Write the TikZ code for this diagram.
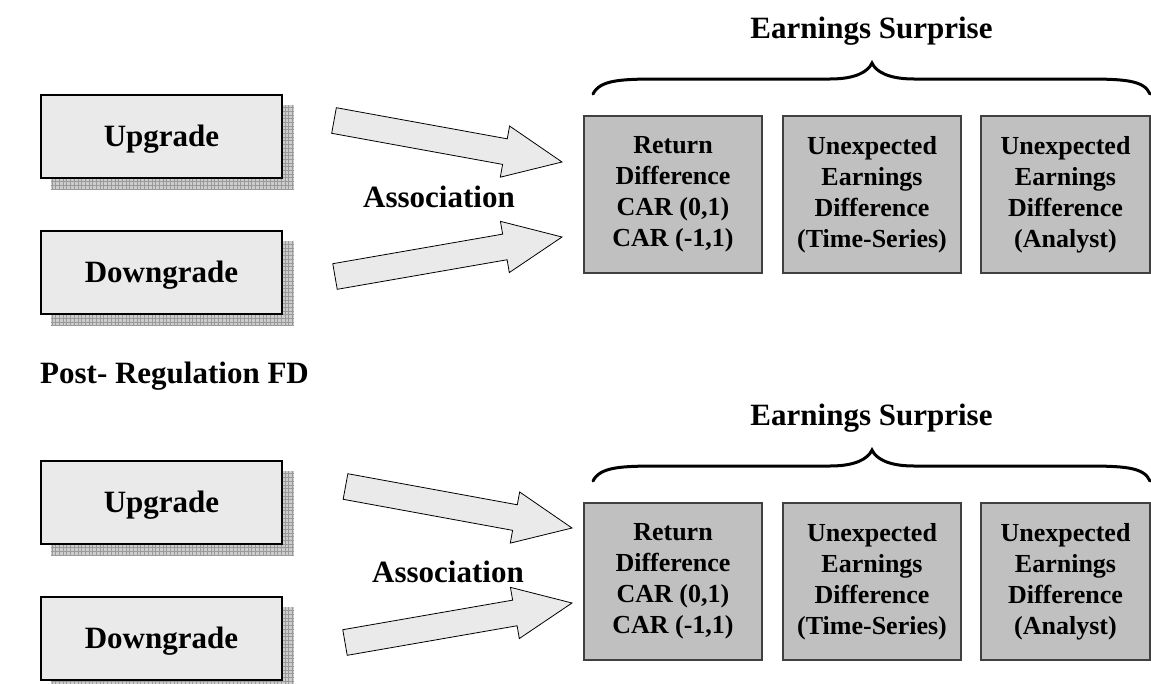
\documentclass[tikz,border=0pt]{standalone}
\usepackage{fontspec}
\setmainfont{Liberation Serif}
\usetikzlibrary{calc,backgrounds}
\definecolor{lightfill}{HTML}{EAEAEA}
\definecolor{darkfill}{HTML}{C0C0C0}
\definecolor{darkedge}{HTML}{404040}
\definecolor{shadowbg}{HTML}{CDCDCD}
\definecolor{shadowline}{HTML}{9A9A9A}
\pgfdeclarelayer{paper}
\pgfsetlayers{paper,background,main}
\newcommand\shadowof[1]{%
  \begin{scope}[on background layer]
    \fill[shadowbg] ($(#1.south west)+(11,11)$) rectangle ($(#1.north east)+(11,11)$);
    \draw[shadowline, line width=0.4pt, step=3.7pt] ($(#1.south west)+(11,11)$) grid ($(#1.north east)+(11,11)$);
  \end{scope}}
\newcommand\blockarrow[3]{%
  \coordinate (#1-b) at ($(#3)!58pt!(#2)$);
  \draw[blockarrowstyle] ($(#2)!13pt!90:(#3)$) -- ($(#1-b)!13pt!90:(#3)$) -- ($(#1-b)!26pt!90:(#3)$) -- (#3)
     -- ($(#1-b)!26pt!-90:(#3)$) -- ($(#1-b)!13pt!-90:(#3)$) -- ($(#2)!13pt!-90:(#3)$) -- cycle;}
\tikzset{
  lightbox/.style={draw=black, line width=1.3pt, fill=lightfill, inner sep=0pt,
    minimum width=241pt, minimum height=83pt, text height=20.5pt, text depth=0pt,
    font=\fontsize{31}{36}\selectfont\bfseries},
  graybox/.style={draw=darkedge, line width=1.3pt, fill=darkfill, inner sep=0pt,
    minimum width=178pt, minimum height=157pt, align=center,
    font=\fontsize{26}{31}\selectfont\bfseries},
  labeltext/.style={inner sep=0pt, font=\fontsize{31}{36}\selectfont\bfseries},
  blockarrowstyle/.style={draw=black, line width=0.8pt, fill=lightfill, line join=miter},
  bracestyle/.style={draw=black, line width=3pt, line cap=round}
}
\begin{document}
\begin{tikzpicture}[x=1pt,y=-1pt]
\useasboundingbox (0,0) rectangle (1151,683);
\begin{pgfonlayer}{paper}
\fill[white] (0,0) rectangle (1151,683);
\end{pgfonlayer}

% ---- top section ----
\node[lightbox] (up1) at (161.5,136.5) {Upgrade};
\node[lightbox] (down1) at (161.5,272.5) {Downgrade};
\shadowof{up1}
\shadowof{down1}

\node[graybox] (ret1) at (673,194.5) {Return\\Difference\\CAR (0,1)\\CAR (-1,1)};
\node[graybox] (ts1) at (872,194.5) {Unexpected\\Earnings\\Difference\\(Time-Series)};
\node[graybox, minimum width=169pt] (an1) at (1065.5,194.5) {Unexpected\\Earnings\\Difference\\(Analyst)};

\node[labeltext, anchor=base] (es1) at (871.5,38) {Earnings Surprise};
\node[labeltext, anchor=base] (as1) at (439,207) {Association};

\draw[bracestyle] (593,94) .. controls (600,80) and (620,79) .. (660,79) -- (830,79)
  .. controls (855,79) and (868,72) .. (872,63) .. controls (876,72) and (889,79) .. (914,79)
  -- (1084,79) .. controls (1124,79) and (1144,80) .. (1150,94);

\coordinate (a1t) at (334,120.5); \coordinate (a1h) at (562,162);
\coordinate (a2t) at (335,276.5); \coordinate (a2h) at (562,237);
\blockarrow{a1}{a1t}{a1h}
\blockarrow{a2}{a2t}{a2h}

% ---- label between sections ----
\node[labeltext, anchor=base west] (post) at (40,383) {Post- Regulation FD};

% ---- bottom section ----
\node[lightbox] (up2) at (161.5,502.5) {Upgrade};
\node[lightbox] (down2) at (161.5,638.5) {Downgrade};
\shadowof{up2}
\shadowof{down2}

\node[graybox] (ret2) at (673,581.5) {Return\\Difference\\CAR (0,1)\\CAR (-1,1)};
\node[graybox] (ts2) at (872,581.5) {Unexpected\\Earnings\\Difference\\(Time-Series)};
\node[graybox, minimum width=169pt] (an2) at (1065.5,581.5) {Unexpected\\Earnings\\Difference\\(Analyst)};

\node[labeltext, anchor=base] (es2) at (871.5,425) {Earnings Surprise};
\node[labeltext, anchor=base] (as2) at (448,582) {Association};

\begin{scope}[shift={(0,387)}]
\draw[bracestyle] (593,94) .. controls (600,80) and (620,79) .. (660,79) -- (830,79)
  .. controls (855,79) and (868,72) .. (872,63) .. controls (876,72) and (889,79) .. (914,79)
  -- (1084,79) .. controls (1124,79) and (1144,80) .. (1150,94);
\end{scope}

\coordinate (a3t) at (345.5,486.5); \coordinate (a3h) at (572,528);
\coordinate (a4t) at (345,642.5); \coordinate (a4h) at (572,603);
\blockarrow{a3}{a3t}{a3h}
\blockarrow{a4}{a4t}{a4h}
\end{tikzpicture}
\end{document}
